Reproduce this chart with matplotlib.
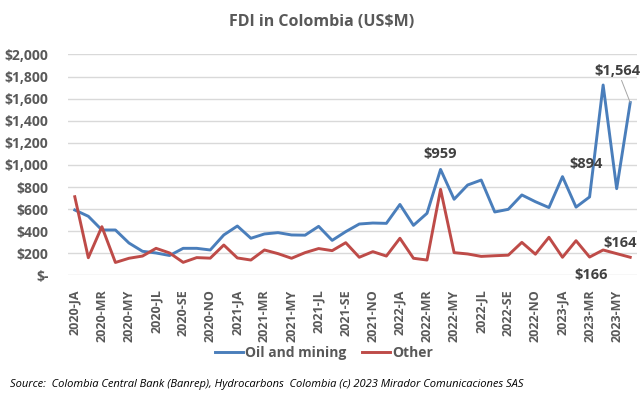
import matplotlib
matplotlib.use("Agg")
import matplotlib.pyplot as plt
import numpy as np

years = [2020, 2021, 2022, 2023]
month_codes = ["JA", "FE", "MR", "AP", "MY", "JN", "JL", "AU", "SE", "OC", "NO", "DE"]
categories = [f"{y}-{m}" for y in years for m in month_codes][:42]

oil_mining = [592, 535, 411, 411, 293, 218, 203, 180, 245, 245, 230, 366,
              447, 336, 375, 387, 366, 364, 444, 317, 396, 465, 474, 471,
              642, 453, 562, 959, 689, 818, 863, 574, 598, 728, 667, 614,
              894, 618, 710, 1723, 785, 1564]
other = [712, 160, 441, 117, 155, 175, 245, 203, 118, 161, 156, 275,
         158, 139, 230, 197, 155, 206, 243, 224, 296, 164, 215, 175,
         336, 155, 139, 779, 206, 194, 172, 178, 183, 299, 192, 345,
         164, 314, 166, 230, 197, 164]

yticks = list(range(0, 2001, 200))
ytick_labels = ["$-" if v == 0 else f"${v:,}" for v in yticks]

title = "FDI in Colombia (US$M)"
source = "Source:  Colombia Central Bank (Banrep), Hydrocarbons  Colombia (c) 2023 Mirador Comunicaciones SAS"

FONT = ["Open Sans", "DejaVu Sans"]
plt.rcParams["font.family"] = FONT
TXT = "#595959"
BLUE = "#4A7EBB"
RED = "#BE4B48"

fig = plt.figure(figsize=(6.43, 3.98), dpi=100)
ax = fig.add_axes([68/643, 1-275.4/398, 569/643, (275.4-54.4)/398])

x = np.arange(len(categories))
ax.plot(x, oil_mining, color=BLUE, lw=2.1, solid_joinstyle="round", label="Oil and mining", zorder=3)
ax.plot(x, other, color=RED, lw=2.1, solid_joinstyle="round", label="Other", zorder=3)

ax.set_xlim(-0.5, len(categories) - 0.5)
ax.set_ylim(0, 2000)
ax.set_yticks(yticks)
ax.set_yticklabels(ytick_labels, fontsize=10, fontweight="bold", color=TXT)
ax.set_xticks(x[::2])
ax.set_xticklabels(categories[::2], rotation=90, fontsize=9, fontweight="bold", color=TXT)
ax.tick_params(axis="both", length=0)
ax.tick_params(axis="x", pad=10)
ax.tick_params(axis="y", pad=14)
ax.grid(axis="y", color="#D9D9D9", lw=1)
ax.set_axisbelow(True)
for s in ax.spines.values():
    s.set_visible(False)

# data labels
lab_kw = dict(fontsize=10.5, fontweight="bold", color="#404040")
i959 = 27
ax.annotate(f"${oil_mining[i959]:,}", (x[i959], oil_mining[i959]), xytext=(0, 6),
            textcoords="offset points", ha="center", va="bottom", **lab_kw)
i894 = 36
ax.annotate(f"${oil_mining[i894]:,}", (x[i894], oil_mining[i894]), xytext=(17, 4),
            textcoords="offset points", ha="center", va="bottom", **lab_kw)
ilast = 41
ax.annotate(f"${oil_mining[ilast]:,}", (x[ilast], oil_mining[ilast]), xytext=(-9, 18),
            textcoords="offset points", ha="center", va="bottom", **lab_kw,
            arrowprops=dict(arrowstyle="-", color="#A6A6A6", lw=0.7, shrinkA=0, shrinkB=0))
ax.annotate(f"${other[ilast]:,}", (x[ilast], other[ilast]), xytext=(-7, 5),
            textcoords="offset points", ha="center", va="bottom", **lab_kw)
i166 = 38
ax.annotate(f"${other[i166]:,}", (x[i166], other[i166]), xytext=(1, -8),
            textcoords="offset points", ha="center", va="top", **lab_kw)

fig.text(322/643, 1-22/398, title, ha="center", va="center", fontsize=11.5,
         fontweight="bold", color=TXT)

leg = fig.legend(loc="center", bbox_to_anchor=(324/643, 1-353/398), ncol=2, frameon=False,
                 prop=dict(family=FONT, size=10, weight="bold"), handlelength=2.0,
                 handletextpad=0.2, columnspacing=1.1)
for t in leg.get_texts():
    t.set_color(TXT)

fig.text(10/643, 1-385/398, source, ha="left", va="center", fontsize=8,
         style="italic", color="#000000")

fig.savefig("out.png", dpi=100)
